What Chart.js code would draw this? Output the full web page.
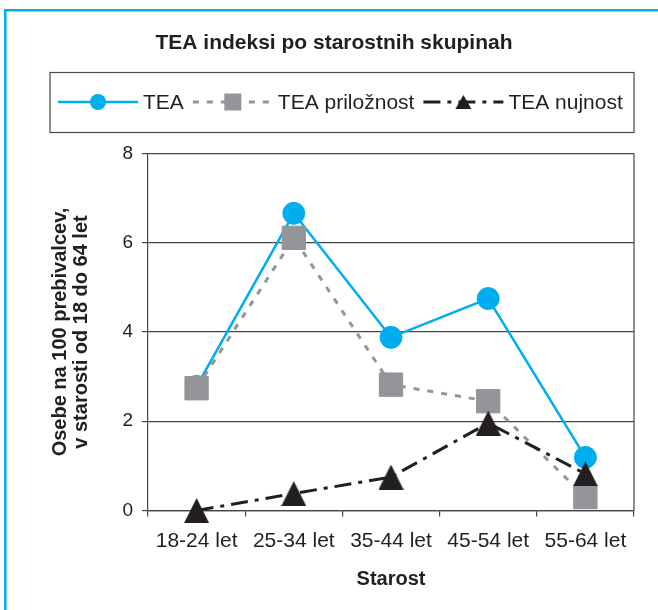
<!DOCTYPE html>
<html>
<head>
<meta charset="utf-8">
<script src="https://cdn.jsdelivr.net/npm/chart.js@4"></script>
<style>
  html, body { margin: 0; padding: 0; background: #ffffff; }
  #wrap { position: relative; width: 658px; height: 610px; }
</style>
</head>
<body>
<div id="wrap"><canvas id="c" width="658" height="610"></canvas></div>
<script>
// ---- data ----
const categories = ['18-24 let', '25-34 let', '35-44 let', '45-54 let', '55-64 let'];
const seriesNames = ['TEA', 'TEA priložnost', 'TEA nujnost'];
const teaValues = [2.78, 6.66, 3.88, 4.75, 1.19];
const priloznostValues = [2.74, 6.11, 2.82, 2.45, 0.30];
const nujnostValues = [0.0, 0.38, 0.75, 1.96, 0.82];
const yTicks = [0, 2, 4, 6, 8];
const chartTitle = 'TEA indeksi po starostnih skupinah';
const yTitle = ['Osebe na 100 prebivalcev,', 'v starosti od 18 do 64 let'];
const xTitle = 'Starost';

// ---- styles ----
const FONT = "'Liberation Sans', Arial, Helvetica, sans-serif";
const CYAN = '#00AEEF';
const GREY = '#939598';
const BLACK = '#231F20';
const GRID = '#454545';

function triangleImage(w, h, color) {
  const c = document.createElement('canvas');
  c.width = w; c.height = h;
  const g = c.getContext('2d');
  g.fillStyle = color;
  g.beginPath();
  g.moveTo(w / 2, 0);
  g.lineTo(w, h);
  g.lineTo(0, h);
  g.closePath();
  g.fill();
  return c;
}
const triPlot = triangleImage(25, 25, BLACK);

const dashPrilo = [6, 8];
const dashNujn = [17, 7, 4, 7];

const decorPlugin = {
  id: 'decor',
  beforeDraw(chart) {
    const ctx = chart.ctx;
    ctx.save();
    // outer frame (cyan, top and left)
    ctx.strokeStyle = CYAN;
    ctx.lineWidth = 2.5;
    ctx.beginPath();
    ctx.moveTo(5.3, 610);
    ctx.lineTo(5.3, 10.3);
    ctx.lineTo(658, 10.3);
    ctx.stroke();
    // title
    ctx.fillStyle = BLACK;
    ctx.font = 'bold 21px ' + FONT;
    ctx.textAlign = 'center';
    ctx.textBaseline = 'middle';
    ctx.fillText(chartTitle, 334, 43);
    // legend box
    const bx = 50, by = 72.5, bw = 584, bh = 60;
    ctx.strokeStyle = '#4a4a4a';
    ctx.lineWidth = 1.2;
    ctx.strokeRect(bx, by, bw, bh);
    // legend items
    const ly = 102;
    ctx.font = '21px ' + FONT;
    ctx.textAlign = 'left';
    let x = 58;
    const items = [
      { color: CYAN, dash: [], width: 2.5, marker: 'circle' },
      { color: GREY, dash: dashPrilo, width: 3, marker: 'rect' },
      { color: BLACK, dash: dashNujn, width: 3, marker: 'tri' }
    ];
    items.forEach((it, i) => {
      const sw = 80;
      ctx.strokeStyle = it.color;
      ctx.lineWidth = it.width;
      ctx.setLineDash(it.dash);
      ctx.beginPath();
      ctx.moveTo(x, ly);
      ctx.lineTo(x + sw, ly);
      ctx.stroke();
      ctx.setLineDash([]);
      const cx = x + sw / 2;
      ctx.fillStyle = it.color;
      if (it.marker === 'circle') {
        ctx.beginPath(); ctx.arc(cx, ly, 8, 0, Math.PI * 2); ctx.fill();
      } else if (it.marker === 'rect') {
        ctx.fillRect(cx - 8.5, ly - 8.5, 17, 17);
      } else {
        ctx.beginPath();
        ctx.moveTo(cx, ly - 7); ctx.lineTo(cx + 8, ly + 7); ctx.lineTo(cx - 8, ly + 7);
        ctx.closePath(); ctx.fill();
      }
      ctx.fillStyle = BLACK;
      const tx = x + sw + 5;
      ctx.fillText(seriesNames[i], tx, ly + 1);
      x = tx + ctx.measureText(seriesNames[i]).width + 9;
    });
    ctx.restore();
  },
  afterDraw(chart) {
    const a = chart.chartArea;
    const ctx = chart.ctx;
    ctx.save();
    ctx.strokeStyle = GRID;
    ctx.lineWidth = 1.2;
    ctx.beginPath();
    ctx.moveTo(a.right, a.top);
    ctx.lineTo(a.right, a.bottom);
    ctx.stroke();
    ctx.restore();
  }
};

new Chart(document.getElementById('c'), {
  type: 'line',
  data: {
    labels: categories,
    datasets: [
      {
        label: seriesNames[0], data: teaValues, order: 2,
        borderColor: CYAN, borderWidth: 2.5, tension: 0, clip: false,
        pointStyle: 'circle', pointRadius: 11, pointBackgroundColor: CYAN,
        pointBorderColor: CYAN, pointBorderWidth: 1
      },
      {
        label: seriesNames[1], data: priloznostValues, order: 1,
        borderColor: GREY, borderWidth: 3, borderDash: dashPrilo, tension: 0, clip: false,
        pointStyle: 'rect', pointRadius: 16.5, pointBackgroundColor: GREY,
        pointBorderColor: GREY, pointBorderWidth: 1
      },
      {
        label: seriesNames[2], data: nujnostValues, order: 0,
        borderColor: BLACK, borderWidth: 3, borderDash: dashNujn, tension: 0, clip: false,
        pointStyle: triPlot, pointRadius: 12, pointBackgroundColor: BLACK,
        pointBorderColor: BLACK, pointBorderWidth: 0
      }
    ]
  },
  options: {
    responsive: false,
    maintainAspectRatio: false,
    animation: false,
    events: [],
    layout: { padding: { top: 153.5, right: 24, bottom: 0, left: 0 } },
    plugins: {
      legend: { display: false },
      title: { display: false },
      tooltip: { enabled: false }
    },
    scales: {
      x: {
        type: 'category',
        offset: true,
        afterFit(scale) { scale.height = 99.5; },
        grid: { display: true, drawOnChartArea: false, drawTicks: true, tickLength: 6, offset: true, color: GRID, lineWidth: 1.2 },
        border: { display: true, color: GRID, width: 1.2 },
        ticks: { color: BLACK, font: { family: FONT, size: 21 }, padding: 12, maxRotation: 0, autoSkip: false },
        title: { display: true, text: xTitle, color: BLACK, font: { family: FONT, size: 20, weight: 'bold', lineHeight: 1.2 }, padding: { top: 0, bottom: 19 } }
      },
      y: {
        min: 0, max: 8,
        afterFit(scale) { scale.width = 148; },
        afterBuildTicks(scale) { scale.ticks = yTicks.map(v => ({ value: v })); },
        grid: { color: GRID, lineWidth: 1.2, drawTicks: true, tickLength: 6 },
        border: { display: true, color: GRID, width: 1.2 },
        ticks: { color: BLACK, font: { family: FONT, size: 19 }, padding: 9 },
        title: { display: true, text: yTitle, color: BLACK, font: { family: FONT, size: 20, weight: 'bold', lineHeight: 1.05 }, padding: { top: 49.5, bottom: 0 } }
      }
    }
  },
  plugins: [decorPlugin]
});
</script>
</body>
</html>
